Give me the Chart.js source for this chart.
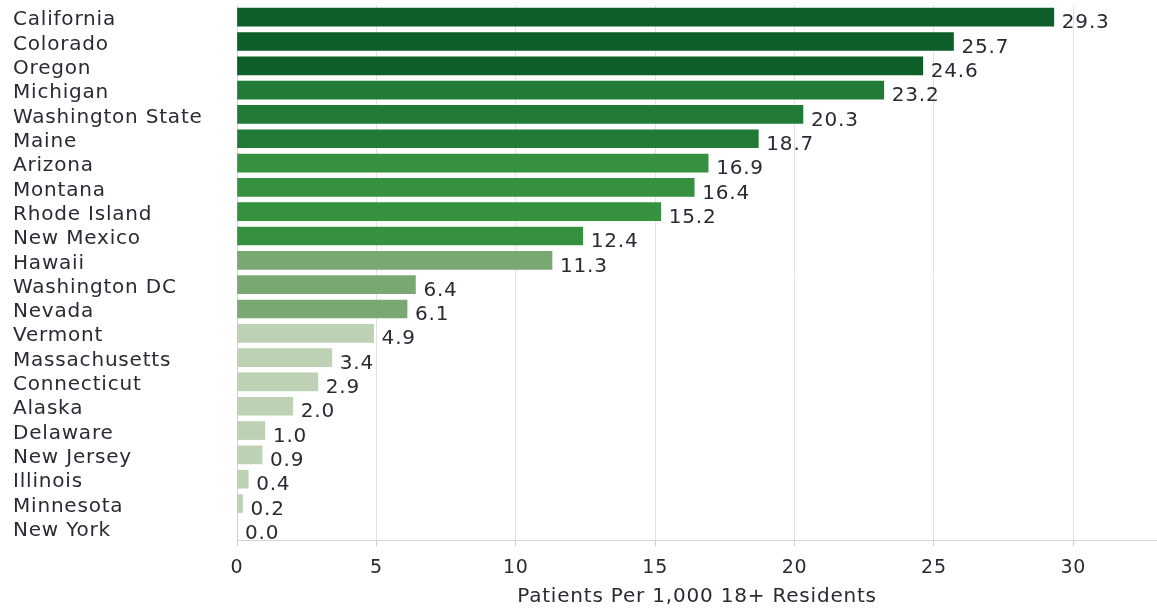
<!DOCTYPE html>
<html>
<head>
<meta charset="utf-8">
<script src="https://cdn.jsdelivr.net/npm/chart.js@4.4.1/dist/chart.umd.min.js"></script>
<style>
    html, body { margin: 0; padding: 0; background: #fff; }
    #wrap { width: 1157px; height: 609px; }
</style>
</head>
<body>
<div id="wrap"><canvas id="statsChart"></canvas></div>
<script>
const states = [
    'California', 'Colorado', 'Oregon', 'Michigan', 'Washington State', 'Maine',
    'Arizona', 'Montana', 'Rhode Island', 'New Mexico', 'Hawaii', 'Washington DC',
    'Nevada', 'Vermont', 'Massachusetts', 'Connecticut', 'Alaska', 'Delaware',
    'New Jersey', 'Illinois', 'Minnesota', 'New York'
];
const patients = [
    29.3, 25.7, 24.6, 23.2, 20.3, 18.7,
    16.9, 16.4, 15.2, 12.4, 11.3, 6.4,
    6.1, 4.9, 3.4, 2.9, 2.0, 1.0,
    0.9, 0.4, 0.2, 0.0
];
const xTicks = [0, 5, 10, 15, 20, 25, 30];

// shade per state, darkest for the highest rates
const shades = [
    '#0d5e28', '#0d5e28', '#0d5e28', '#217a36', '#217a36', '#217a36',
    '#35913f', '#35913f', '#35913f', '#35913f', '#7aa872', '#7aa872',
    '#7aa872', '#bdd2b4', '#bdd2b4', '#bdd2b4', '#bdd2b4', '#bdd2b4',
    '#bdd2b4', '#bdd2b4', '#bdd2b4', '#bdd2b4'
];

const FONT = 'DejaVu Sans';
const TEXT = '#2a2a34';

// slightly looser lettering for all canvas text
const spacing = {
    id: 'spacing',
    beforeDraw(chart) {
        chart.ctx.letterSpacing = '0.8px';
    }
};

// prints the value just past the end of every bar
const valueLabels = {
    id: 'valueLabels',
    afterDatasetsDraw(chart) {
        const { ctx } = chart;
        const meta = chart.getDatasetMeta(0);
        ctx.save();
        ctx.font = `20px "${FONT}"`;
        ctx.fillStyle = TEXT;
        ctx.textAlign = 'left';
        ctx.textBaseline = 'middle';
        meta.data.forEach((bar, i) => {
            ctx.fillText(patients[i].toFixed(1), bar.x + 8, bar.y + 6);
        });
        ctx.restore();
    }
};

document.addEventListener('DOMContentLoaded', () => {
    const ctx = document.getElementById('statsChart');

    new Chart(ctx, {
        type: 'bar',
        data: {
            labels: states,
            datasets: [{
                data: patients,
                backgroundColor: shades,
                borderWidth: 0,
                barThickness: 18
            }]
        },
        options: {
            indexAxis: 'y',
            responsive: true,
            maintainAspectRatio: false,
            animation: false,
            layout: { padding: { left: 13, top: 5, right: 0, bottom: 0 } },
            plugins: {
                legend: { display: false },
                tooltip: { enabled: false }
            },
            scales: {
                x: {
                    min: 0,
                    max: 33,
                    afterBuildTicks: (scale) => {
                        scale.ticks = xTicks.map(v => ({ value: v }));
                    },
                    afterFit: (scale) => { scale.height = 69; },
                    grid: {
                        color: '#e2e2e2',
                        tickColor: '#cfcfcf',
                        tickLength: 6
                    },
                    border: { color: '#d4d4d4' },
                    ticks: {
                        color: TEXT,
                        padding: 11,
                        font: { family: FONT, size: 19 }
                    },
                    title: {
                        display: true,
                        text: 'Patients Per 1,000 18+ Residents',
                        color: TEXT,
                        padding: { top: 2, bottom: 0 },
                        font: { family: FONT, size: 20 }
                    }
                },
                y: {
                    afterFit: (scale) => {
                        scale.width = 224;
                        scale.paddingTop = 0;
                        scale.paddingBottom = 0;
                    },
                    grid: { display: false },
                    border: { color: '#d4d4d4' },
                    ticks: {
                        color: TEXT,
                        crossAlign: 'far',
                        autoSkip: false,
                        labelOffset: 3,
                        font: { family: FONT, size: 20 }
                    }
                }
            }
        },
        plugins: [spacing, valueLabels]
    });
});
</script>
</body>
</html>
